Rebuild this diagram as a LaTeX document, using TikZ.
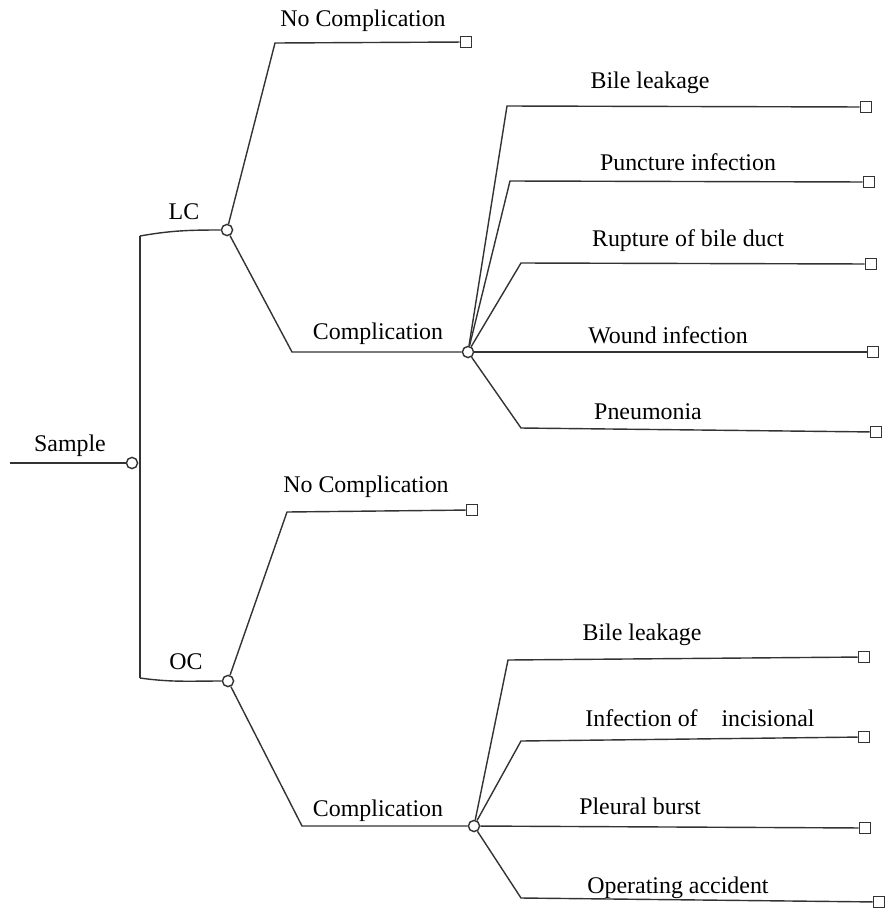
\documentclass[tikz,border=0pt]{standalone}
\usepackage{fontspec}
\setmainfont{Liberation Serif}
\usetikzlibrary{positioning}
\tikzset{
  chance/.style={circle,draw,fill=white,inner sep=0pt,minimum size=0.28cm},
  leaf/.style={rectangle,draw,fill=white,inner sep=0pt,minimum size=0.28cm},
  txt/.style={inner sep=1pt}
}

\begin{document}
\begin{tikzpicture}[x=0.025cm, y=-0.025cm, line width=1pt, draw=black!80,
    font=\fontsize{17}{20}\selectfont]

      \useasboundingbox (0,0) rectangle (886,916);

      % root
      \coordinate (start) at (10,463);
      \node[chance] (root) at (132,463) {};
      \node[txt] (root_title) at (70,446) {Sample};
      \coordinate (top) at (140,236);
      \coordinate (bot) at (140,678);

      % LC branch
      \node[chance] (lc) at (227,230) {};
      \node[txt] (lc_title) at (184,212) {LC};
      \coordinate (lcno_k) at (275,43);
      \node[leaf] (lcno) at (466,42) {};
      \node[txt] (lcno_title) at (363,21) {No Complication};
      \coordinate (lccomp_k) at (292,352);
      \node[chance] (lccomp) at (468,352) {};
      \node[txt] (lccomp_title) at (378,334) {Complication};

      \coordinate (lc1_k) at (507,106);
      \node[leaf] (lc1) at (866,107) {};
      \node[txt] (lc1_title) at (650,83) {Bile leakage};
      \coordinate (lc2_k) at (510,181);
      \node[leaf] (lc2) at (869,182) {};
      \node[txt] (lc2_title) at (688,162) {Puncture infection};
      \coordinate (lc3_k) at (521,263);
      \node[leaf] (lc3) at (871,264) {};
      \node[txt] (lc3_title) at (688,241) {Rupture of bile duct};
      \node[leaf] (lc4) at (873,352) {};
      \node[txt] (lc4_title) at (668,335) {Wound infection};
      \coordinate (lc5_k) at (521,428);
      \node[leaf] (lc5) at (876,432) {};
      \node[txt] (lc5_title) at (648,412) {Pneumonia};

      % OC branch
      \node[chance] (oc) at (228,681) {};
      \node[txt] (oc_title) at (186,662) {OC};
      \coordinate (ocno_k) at (287,512);
      \node[leaf] (ocno) at (472,510) {};
      \node[txt] (ocno_title) at (366,487) {No Complication};
      \coordinate (occomp_k) at (302,826);
      \node[chance] (occomp) at (474,826) {};
      \node[txt] (occomp_title) at (378,811) {Complication};

      \coordinate (oc1_k) at (508,660);
      \node[leaf] (oc1) at (864,657) {};
      \node[txt] (oc1_title) at (642,635) {Bile leakage};
      \coordinate (oc2_k) at (521,741);
      \node[leaf] (oc2) at (864,737) {};
      \node[txt] (oc2_title) at (700,718) {Infection of\quad incisional};
      \node[leaf] (oc3) at (865,828) {};
      \node[txt] (oc3_title) at (640,806) {Pleural burst};
      \coordinate (oc4_k) at (521,898);
      \node[leaf] (oc4) at (879,902) {};
      \node[txt] (oc4_title) at (678,888) {Operating accident};

      \draw (start) -- (root);
      \draw (top) -- (bot);
      \draw (top) to[out=10,in=180] (lc.west);
      \draw (bot) to[out=-8,in=180] (oc.west);

      \draw (lc) -- (lcno_k) -- (lcno);
      \draw (lc) -- (lccomp_k) -- (lccomp);
      \draw (lccomp) -- (lc1_k) -- (lc1);
      \draw (lccomp) -- (lc2_k) -- (lc2);
      \draw (lccomp) -- (lc3_k) -- (lc3);
      \draw (lccomp) -- (lc4);
      \draw (lccomp) -- (lc5_k) -- (lc5);

      \draw (oc) -- (ocno_k) -- (ocno);
      \draw (oc) -- (occomp_k) -- (occomp);
      \draw (occomp) -- (oc1_k) -- (oc1);
      \draw (occomp) -- (oc2_k) -- (oc2);
      \draw (occomp) -- (oc3);
      \draw (occomp) -- (oc4_k) -- (oc4);

\end{tikzpicture}
\end{document}
